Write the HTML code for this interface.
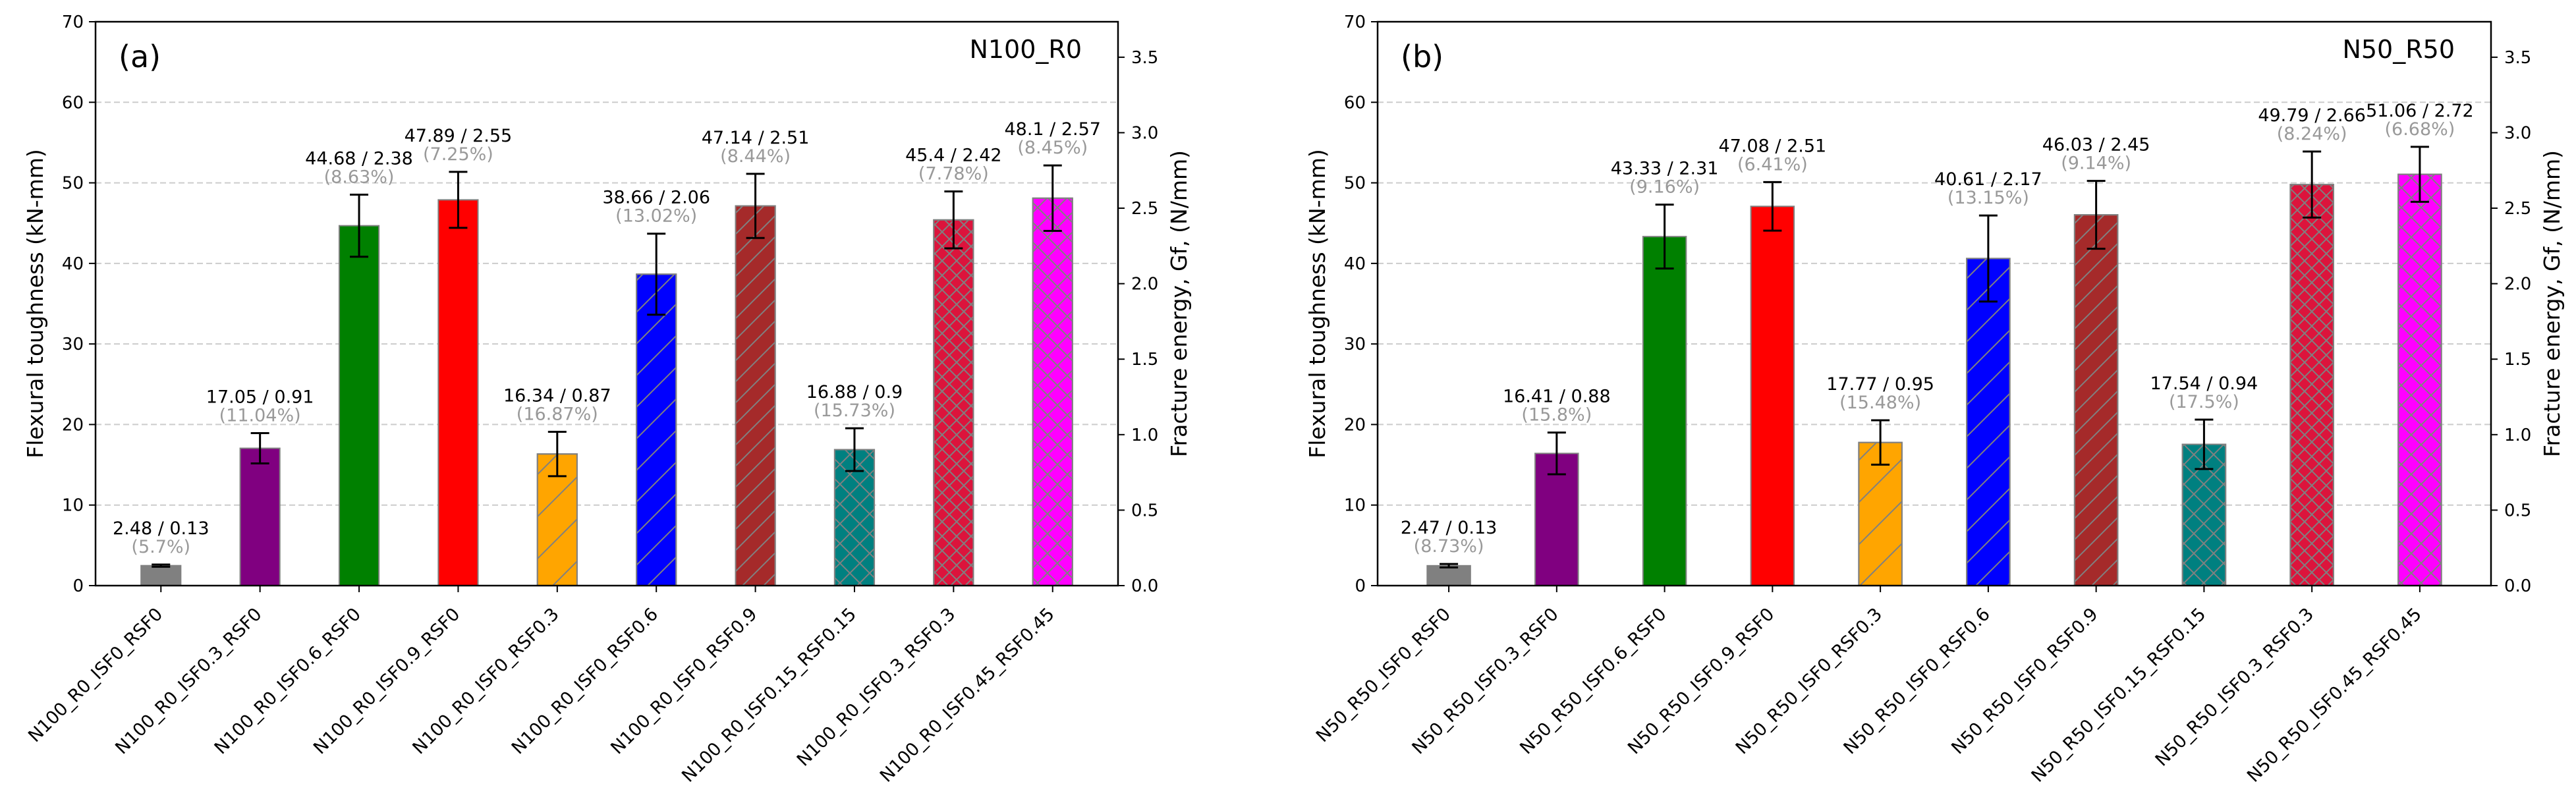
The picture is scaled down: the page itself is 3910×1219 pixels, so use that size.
<!DOCTYPE html>
<html><head><meta charset="utf-8"><title>Flexural toughness and fracture energy</title>
<style>
html,body{margin:0;padding:0;background:#fff;}
svg{display:block;font-family:"DejaVu Sans","Liberation Sans",sans-serif;}
</style></head>
<body>
<svg id="fig" width="3910" height="1219" viewBox="0 0 3910 1219" xmlns="http://www.w3.org/2000/svg">
<defs>
 <pattern id="h-orange" patternUnits="userSpaceOnUse" width="64" height="64"><line x1="-16" y1="80" x2="80" y2="-16" stroke="#808080" stroke-width="2"/><line x1="-48" y1="48" x2="48" y2="-48" stroke="#808080" stroke-width="2"/><line x1="16" y1="112" x2="112" y2="16" stroke="#808080" stroke-width="2"/></pattern>
 <pattern id="h-blue" patternUnits="userSpaceOnUse" width="48" height="48"><line x1="-12" y1="60" x2="60" y2="-12" stroke="#808080" stroke-width="2"/><line x1="-36" y1="36" x2="36" y2="-36" stroke="#808080" stroke-width="2"/><line x1="12" y1="84" x2="84" y2="12" stroke="#808080" stroke-width="2"/></pattern>
 <pattern id="h-brown" patternUnits="userSpaceOnUse" width="32" height="32"><line x1="-8" y1="40" x2="40" y2="-8" stroke="#808080" stroke-width="2"/><line x1="-24" y1="24" x2="24" y2="-24" stroke="#808080" stroke-width="2"/><line x1="8" y1="56" x2="56" y2="8" stroke="#808080" stroke-width="2"/></pattern>
 <pattern id="x30" patternUnits="userSpaceOnUse" width="30" height="30"><path d="M-5,35 L35,-5 M-20,20 L20,-20 M10,50 L50,10 M-5,-5 L35,35 M-20,10 L20,50 M10,-20 L50,20" stroke="#808080" stroke-width="2" fill="none"/></pattern>
 <pattern id="x22" patternUnits="userSpaceOnUse" width="22" height="22"><path d="M-5,27 L27,-5 M-16,16 L16,-16 M6,38 L38,6 M-5,-5 L27,27 M-16,6 L16,38 M6,-16 L38,16" stroke="#808080" stroke-width="2" fill="none"/></pattern>
</defs>
</svg>
<script>
// ---------- data ----------
const labelsA = ["N100_R0_ISF0_RSF0","N100_R0_ISF0.3_RSF0","N100_R0_ISF0.6_RSF0","N100_R0_ISF0.9_RSF0","N100_R0_ISF0_RSF0.3","N100_R0_ISF0_RSF0.6","N100_R0_ISF0_RSF0.9","N100_R0_ISF0.15_RSF0.15","N100_R0_ISF0.3_RSF0.3","N100_R0_ISF0.45_RSF0.45"];
const toughA = [2.48,17.05,44.68,47.89,16.34,38.66,47.14,16.88,45.4,48.1];
const gfA = [0.13,0.91,2.38,2.55,0.87,2.06,2.51,0.9,2.42,2.57];
const cvA = [5.7,11.04,8.63,7.25,16.87,13.02,8.44,15.73,7.78,8.45];
const labelsB = ["N50_R50_ISF0_RSF0","N50_R50_ISF0.3_RSF0","N50_R50_ISF0.6_RSF0","N50_R50_ISF0.9_RSF0","N50_R50_ISF0_RSF0.3","N50_R50_ISF0_RSF0.6","N50_R50_ISF0_RSF0.9","N50_R50_ISF0.15_RSF0.15","N50_R50_ISF0.3_RSF0.3","N50_R50_ISF0.45_RSF0.45"];
const toughB = [2.47,16.41,43.33,47.08,17.77,40.61,46.03,17.54,49.79,51.06];
const gfB = [0.13,0.88,2.31,2.51,0.95,2.17,2.45,0.94,2.66,2.72];
const cvB = [8.73,15.8,9.16,6.41,15.48,13.15,9.14,17.5,8.24,6.68];
const leftTicks = [0,10,20,30,40,50,60,70];
const rightTicks = ["0.0","0.5","1.0","1.5","2.0","2.5","3.0","3.5"];
const gridTicks = [10,20,30,40,50,60];
const barColors = ["#808080","#800080","#008000","#ff0000","#ffa500","#0000ff","#a52a2a","#008080","#dc143c","#ff00ff"];
const barHatch = [null,null,null,null,"h-orange","h-blue","h-brown","x30","x22","x30"];

const NS = "http://www.w3.org/2000/svg";
const svg = document.getElementById("fig");
function mk(tag, attrs, parent){
  const e = document.createElementNS(NS, tag);
  for (const k in attrs) e.setAttribute(k, attrs[k]);
  (parent||svg).appendChild(e);
  return e;
}
function txt(s, attrs, parent){ const t = mk("text", attrs, parent); t.textContent = s; return t; }

function drawPanel(p){
  const g = mk("g", {});
  
  
  const yTop = 33, yBot = 889, yMax = 70, rMax = 3.735;
  const xmin = -0.66, xmax = 9.66;
  const X = i => p.x0 + (i - xmin) / (xmax - xmin) * (p.x1 - p.x0);
  const Y = v => yBot - v / yMax * (yBot - yTop);
  const YR = v => yBot - v / rMax * (yBot - yTop);
  const bw = 0.4 * (p.x1 - p.x0) / (xmax - xmin);

  gridTicks.forEach(v => {
    const l = mk("line", {x1:p.x0, x2:p.x1, y1:Y(v), y2:Y(v), stroke:"#cccccc", "stroke-width":2, "stroke-dasharray":"9,5"}, g);
    
    
  });

  p.tough.forEach((v, i) => {
    const cx = X(i);
    const r = mk("rect", {x:cx-bw/2, y:Y(v), width:bw, height:yBot-Y(v), fill:barColors[i], stroke:"#808080", "stroke-width":2}, g);
    
    
    if (barHatch[i]) {
      const h = mk("rect", {x:cx-bw/2, y:Y(v), width:bw, height:yBot-Y(v), fill:"url(#"+barHatch[i]+")", stroke:"#808080", "stroke-width":2}, g);
      
      
    }
    const err = v * p.cv[i] / 100;
    const eb = mk("g", {stroke:"#000", "stroke-width":3}, g);
    
    
    mk("line", {x1:cx, x2:cx, y1:Y(v+err), y2:Y(v-err)}, eb);
    mk("line", {x1:cx-14, x2:cx+14, y1:Y(v+err), y2:Y(v+err)}, eb);
    mk("line", {x1:cx-14, x2:cx+14, y1:Y(v-err), y2:Y(v-err)}, eb);
    const top = Y(v+err);
    const t1 = txt(v + " / " + p.gf[i], {x:cx, y:top-46, "text-anchor":"middle", "font-size":27, fill:"#000"}, g);
    
    
    const t2 = txt("(" + p.cv[i] + "%)", {x:cx, y:top-18, "text-anchor":"middle", "font-size":27, fill:"#999999"}, g);
    
    
    mk("line", {x1:cx, x2:cx, y1:yBot, y2:yBot+10, stroke:"#000", "stroke-width":2}, g);
    const xl = txt(p.labels[i], {x:0, y:0, "text-anchor":"end", "font-size":27, fill:"#000",
      transform:"translate("+(cx+4)+","+(yBot+45)+") rotate(-45)"}, g);
    
    
  });

  const fr = mk("rect", {x:p.x0, y:yTop, width:p.x1-p.x0, height:yBot-yTop, fill:"none", stroke:"#000", "stroke-width":2.5}, g);
  
  

  leftTicks.forEach(v => {
    mk("line", {x1:p.x0-10, x2:p.x0, y1:Y(v), y2:Y(v), stroke:"#000", "stroke-width":2}, g);
    const t = txt(String(v), {x:p.x0-18, y:Y(v)+9, "text-anchor":"end", "font-size":26, fill:"#000"}, g);
    
    
  });
  rightTicks.forEach(s => {
    const v = parseFloat(s);
    mk("line", {x1:p.x1, x2:p.x1+10, y1:YR(v), y2:YR(v), stroke:"#000", "stroke-width":2}, g);
    const t = txt(s, {x:p.x1+20, y:YR(v)+9, "text-anchor":"start", "font-size":26, fill:"#000"}, g);
    
    
  });

  const yl = txt("Flexural toughness (kN-mm)", {x:0, y:0, "text-anchor":"middle", "font-size":33, fill:"#000",
    transform:"translate("+(p.x0-80)+","+((yTop+yBot)/2)+") rotate(-90)"}, g);
  
  
  const yr = txt("Fracture energy, Gf, (N/mm)", {x:0, y:0, "text-anchor":"middle", "font-size":33, fill:"#000",
    transform:"translate("+(p.x1+104)+","+((yTop+yBot)/2)+") rotate(-90)"}, g);
  
  

  const pl = txt(p.tag, {x:p.x0+35, y:102, "font-size":46, fill:"#000"}, g);
  
  
  const pt = txt(p.title, {x:p.x1-55, y:88, "text-anchor":"end", "font-size":38, fill:"#000"}, g);
  
  
}

drawPanel({name:"panel-a", x0:145, x1:1697, labels:labelsA, tough:toughA, gf:gfA, cv:cvA, tag:"(a)", title:"N100_R0"});
drawPanel({name:"panel-b", x0:2091, x1:3781, labels:labelsB, tough:toughB, gf:gfB, cv:cvB, tag:"(b)", title:"N50_R50"});
</script>
</body></html>
